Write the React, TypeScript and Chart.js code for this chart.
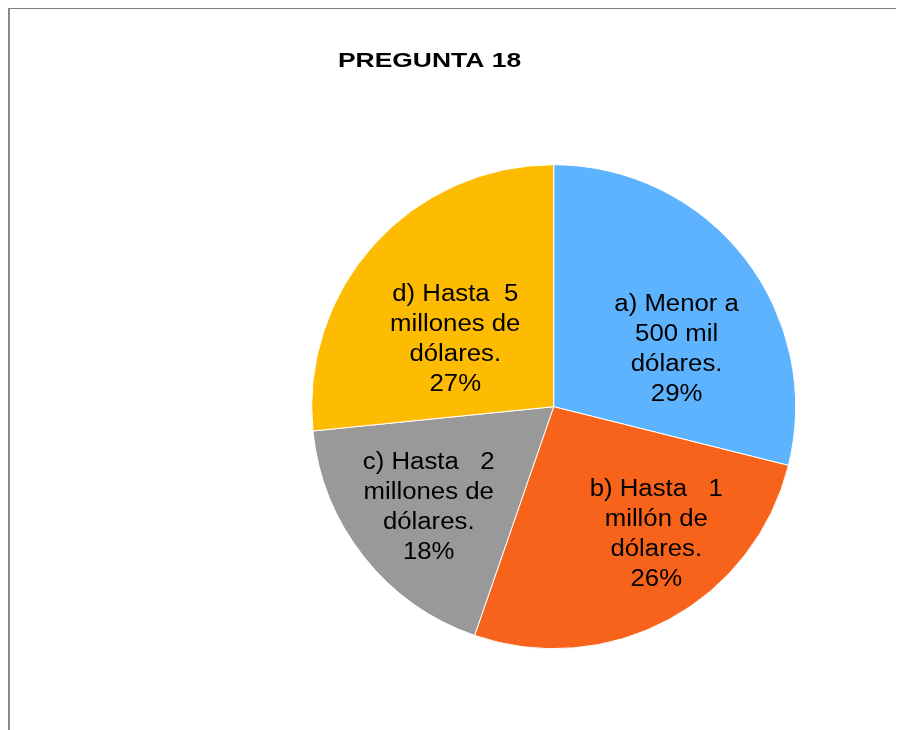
import React, { useEffect, useRef } from "react";
import { Chart, registerables } from "chart.js";

Chart.register(...registerables);

const TITLE = "PREGUNTA 18";
const CATEGORIES = [
  "a) Menor a 500 mil dólares.",
  "b) Hasta 1 millón de dólares.",
  "c) Hasta 2 millones de dólares.",
  "d) Hasta 5 millones de dólares.",
];
const VALUES = [28.9, 26.4, 18.1, 26.6];
const LABEL_LINES = [
  ["a) Menor a", "500 mil", "dólares."],
  ["b) Hasta   1", "millón de", "dólares."],
  ["c) Hasta   2", "millones de", "dólares."],
  ["d) Hasta  5", "millones de", "dólares."],
];
const COLORS = ["#5db3fd", "#f7631b", "#999999", "#fdbc02"];

// label placement: radius fraction and angular shift (deg) from the slice mid-angle
const LABEL_LAYOUT = [
  { rf: 0.564, dA: 12.2 },
  { rf: 0.672, dA: -10.66 },
  { rf: 0.659, dA: -0.06 },
  { rf: 0.496, dA: -7.22 },
];

const W = 896;
const H = 722;

const framePlugin = {
  id: "frame",
  beforeDraw(chart: any) {
    const ctx = chart.ctx;
    ctx.save();
    ctx.fillStyle = "#ffffff";
    ctx.fillRect(0, 0, chart.width, chart.height);
    ctx.fillStyle = "#7f7f7f";
    ctx.fillRect(0, 0, chart.width, 1);
    ctx.fillStyle = "#8a8a8a";
    ctx.fillRect(0, 0, 2, chart.height);
    ctx.restore();
  },
};

const labelPlugin = {
  id: "sliceLabels",
  afterDatasetsDraw(chart: any) {
    const ctx = chart.ctx;
    const meta = chart.getDatasetMeta(0);
    const total = VALUES.reduce((a, b) => a + b, 0);
    ctx.save();
    ctx.fillStyle = "#000";
    ctx.textAlign = "center";
    ctx.textBaseline = "alphabetic";
    ctx.font = "23px 'Liberation Sans', Arial, sans-serif";
    const lineH = 30;
    const cap = 16.5;
    meta.data.forEach((arc: any, i: number) => {
      const p = arc.getProps(["x", "y", "startAngle", "endAngle", "outerRadius"], true);
      const mid = (p.startAngle + p.endAngle) / 2 + (LABEL_LAYOUT[i].dA * Math.PI) / 180;
      const r = p.outerRadius * LABEL_LAYOUT[i].rf;
      const cx = p.x + Math.cos(mid) * r;
      const cy = p.y + Math.sin(mid) * r;
      const pct = Math.round((VALUES[i] / total) * 100) + "%";
      const lines = [...LABEL_LINES[i], pct];
      lines.forEach((ln, k) => {
        const by = cy + (k - (lines.length - 1) / 2) * lineH + cap / 2;
        ctx.save();
        ctx.translate(cx, by);
        ctx.scale(1.12, 1);
        ctx.fillText(ln, 0, 0);
        ctx.restore();
      });
    });
    // title
    ctx.font = "bold 20.5px 'Liberation Sans', Arial, sans-serif";
    ctx.save();
    ctx.translate(421.5, 59.3);
    ctx.scale(1.29, 1.03);
    ctx.fillText(TITLE, 0, 0);
    ctx.restore();
    ctx.restore();
  },
};

export default function App() {
  const ref = useRef<HTMLCanvasElement>(null);
  useEffect(() => {
    document.documentElement.style.overflow = "hidden";
    const canvas = ref.current;
    if (!canvas) return;
    const chart = new Chart(canvas, {
      type: "pie",
      data: {
        labels: CATEGORIES,
        datasets: [
          {
            data: VALUES,
            backgroundColor: COLORS,
            borderColor: "#ffffff",
            borderWidth: 1,
          },
        ],
      },
      options: {
        responsive: false,
        animation: false,
        layout: {
          padding: { left: 302, right: 106.6, top: 156.2, bottom: 80.8 },
        },
        plugins: {
          legend: { display: false },
          title: { display: false },
          tooltip: { enabled: false },
        },
      },
      plugins: [framePlugin, labelPlugin],
    });
    return () => chart.destroy();
  }, []);
  return (
    <div style={{ width: W, height: H }}>
      <canvas ref={ref} width={W} height={H} style={{ display: "block", width: W, height: H }} />
    </div>
  );
}
